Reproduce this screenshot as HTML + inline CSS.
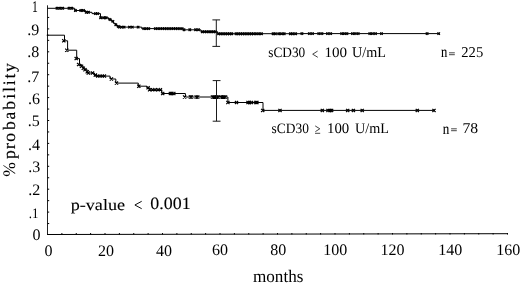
<!DOCTYPE html>
<html><head><meta charset="utf-8"><style>html,body{margin:0;padding:0;background:#fff;width:520px;height:284px;overflow:hidden}svg{display:block;filter:grayscale(1) blur(0.3px)}</style></head>
<body><svg width="520" height="284" viewBox="0 0 520 284">
<rect width="520" height="284" fill="#fff"/>
<g fill="none" stroke="#000" stroke-width="1">
<path d="M47.5,5.3 V235" stroke="#222"/>
<circle cx="47.6" cy="35.2" r="0.9" fill="#000" stroke="none"/>
<path d="M47,234.5 L508,233.7"/>
<path d="M47.5,223.55H49.2M47.5,212.10H49.2M47.5,200.65H49.2M47.5,189.20H49.2M47.5,177.75H49.2M47.5,166.30H49.2M47.5,154.85H49.2M47.5,143.40H49.2M47.5,131.95H49.2M47.5,120.50H49.2M47.5,109.05H49.2M47.5,97.60H49.2M47.5,86.15H49.2M47.5,74.70H49.2M47.5,63.25H49.2M47.5,51.80H49.2M47.5,40.35H49.2M47.5,28.90H49.2M47.5,17.45H49.2M61.88,234.5V233.0M76.25,234.5V233.0M90.62,234.5V233.0M105.00,234.5V233.0M119.38,234.5V233.0M133.75,234.5V233.0M148.12,234.5V233.0M162.50,234.5V233.0M176.88,234.5V233.0M191.25,234.5V233.0M205.62,234.5V233.0M220.00,234.5V233.0M234.38,234.5V233.0M248.75,234.5V233.0M263.12,234.5V233.0M277.50,234.5V233.0M291.88,234.5V233.0M306.25,234.5V233.0M320.62,234.5V233.0M335.00,234.5V233.0M349.38,234.5V233.0M363.75,234.5V233.0M378.12,234.5V233.0M392.50,234.5V233.0M406.88,234.5V233.0M421.25,234.5V233.0M435.62,234.5V233.0M450.00,234.5V233.0M464.38,234.5V233.0M478.75,234.5V233.0M493.12,234.5V233.0M507.50,234.5V233.0" stroke-width="1"/>
<path d="M47.5,8.3 H74.8 V10.5 H85.5 V12.3 H92 V13.6 H100.5 V17.7 H108.5 V19.5 H111.5 V21.4 H113.5 V23.4 H115.5 V24.8 H117 V26.4 H118.7 V27.1 H141.7 V28.6 H183.1 V29.8 H200.9 V31.7 H217.6 V33.7 H300 V33.6 H439.8" stroke-width="1"/>
<path d="M47.5,35.2 H64.5 V40.8 H67.6 V50.2 H76.7 V58.6 H79.5 V64.5 H81.5 V66.2 H83.3 V68.2 H85 V69.7 H87.2 V71.7 H88.1 V73 H94.5 V76.1 H110.1 V79 H115.8 V83.1 H138.3 V86.2 H146.8 V87.8 H149.6 V89.8 H161.8 V93.5 H185.4 V97 H227.9 V102.5 H263 V110.4 H435" stroke-width="1"/>
<path d="M55.75,7.05L58.25,9.55M55.75,9.55L58.25,7.05M58.65,7.05L61.15,9.55M58.65,9.55L61.15,7.05M61.50,7.05L64.00,9.55M61.50,9.55L64.00,7.05M67.75,7.05L70.25,9.55M67.75,9.55L70.25,7.05M70.65,7.05L73.15,9.55M70.65,9.55L73.15,7.05M74.15,9.25L76.65,11.75M74.15,11.75L76.65,9.25M79.55,9.25L82.05,11.75M79.55,11.75L82.05,9.25M82.25,9.25L84.75,11.75M82.25,11.75L84.75,9.25M84.95,11.05L87.45,13.55M84.95,13.55L87.45,11.05M87.25,11.05L89.75,13.55M87.25,13.55L89.75,11.05M94.15,12.35L96.65,14.85M94.15,14.85L96.65,12.35M96.45,12.35L98.95,14.85M96.45,14.85L98.95,12.35M99.35,16.45L101.85,18.95M99.35,18.95L101.85,16.45M102.45,16.45L104.95,18.95M102.45,18.95L104.95,16.45M104.95,16.45L107.45,18.95M104.95,18.95L107.45,16.45M108.75,18.25L111.25,20.75M108.75,20.75L111.25,18.25M111.65,20.15L114.15,22.65M111.65,22.65L114.15,20.15M114.55,23.55L117.05,26.05M114.55,26.05L117.05,23.55M117.05,25.15L119.55,27.65M117.05,27.65L119.55,25.15M118.05,25.85L120.55,28.35M118.05,28.35L120.55,25.85M120.45,25.85L122.95,28.35M120.45,28.35L122.95,25.85M122.85,25.85L125.35,28.35M122.85,28.35L125.35,25.85M128.15,25.85L130.65,28.35M128.15,28.35L130.65,25.85M131.05,25.85L133.55,28.35M131.05,28.35L133.55,25.85M136.85,25.85L139.35,28.35M136.85,28.35L139.35,25.85M142.55,27.35L145.05,29.85M142.55,29.85L145.05,27.35M145.05,27.35L147.55,29.85M145.05,29.85L147.55,27.35M147.45,27.35L149.95,29.85M147.45,29.85L149.95,27.35M154.15,27.35L156.65,29.85M154.15,29.85L156.65,27.35M156.55,27.35L159.05,29.85M156.55,29.85L159.05,27.35M158.95,27.35L161.45,29.85M158.95,29.85L161.45,27.35M161.15,27.35L163.65,29.85M161.15,29.85L163.65,27.35M163.35,27.35L165.85,29.85M163.35,29.85L165.85,27.35M165.55,27.35L168.05,29.85M165.55,29.85L168.05,27.35M167.75,27.35L170.25,29.85M167.75,29.85L170.25,27.35M169.95,27.35L172.45,29.85M169.95,29.85L172.45,27.35M172.15,27.35L174.65,29.85M172.15,29.85L174.65,27.35M174.35,27.35L176.85,29.85M174.35,29.85L176.85,27.35M176.55,27.35L179.05,29.85M176.55,29.85L179.05,27.35M178.75,27.35L181.25,29.85M178.75,29.85L181.25,27.35M180.85,27.35L183.35,29.85M180.85,29.85L183.35,27.35M182.75,28.55L185.25,31.05M182.75,31.05L185.25,28.55M188.55,28.55L191.05,31.05M188.55,31.05L191.05,28.55M194.35,28.55L196.85,31.05M194.35,31.05L196.85,28.55M197.25,28.55L199.75,31.05M197.25,31.05L199.75,28.55M201.05,30.45L203.55,32.95M201.05,32.95L203.55,30.45M203.25,30.45L205.75,32.95M203.25,32.95L205.75,30.45M205.45,30.45L207.95,32.95M205.45,32.95L207.95,30.45M207.65,30.45L210.15,32.95M207.65,32.95L210.15,30.45M209.85,30.45L212.35,32.95M209.85,32.95L212.35,30.45M212.05,30.45L214.55,32.95M212.05,32.95L214.55,30.45M214.25,30.45L216.75,32.95M214.25,32.95L216.75,30.45M217.35,32.45L219.85,34.95M217.35,34.95L219.85,32.45M219.55,32.45L222.05,34.95M219.55,34.95L222.05,32.45M221.75,32.45L224.25,34.95M221.75,34.95L224.25,32.45M223.95,32.45L226.45,34.95M223.95,34.95L226.45,32.45M226.15,32.45L228.65,34.95M226.15,34.95L228.65,32.45M228.35,32.45L230.85,34.95M228.35,34.95L230.85,32.45M230.55,32.45L233.05,34.95M230.55,34.95L233.05,32.45M234.75,32.45L237.25,34.95M234.75,34.95L237.25,32.45M236.95,32.45L239.45,34.95M236.95,34.95L239.45,32.45M239.15,32.45L241.65,34.95M239.15,34.95L241.65,32.45M241.35,32.45L243.85,34.95M241.35,34.95L243.85,32.45M243.55,32.45L246.05,34.95M243.55,34.95L246.05,32.45M245.75,32.45L248.25,34.95M245.75,34.95L248.25,32.45M247.95,32.45L250.45,34.95M247.95,34.95L250.45,32.45M250.15,32.45L252.65,34.95M250.15,34.95L252.65,32.45M252.35,32.45L254.85,34.95M252.35,34.95L254.85,32.45M254.95,32.45L257.45,34.95M254.95,34.95L257.45,32.45M257.55,32.45L260.05,34.95M257.55,34.95L260.05,32.45M260.25,32.45L262.75,34.95M260.25,34.95L262.75,32.45M271.85,32.45L274.35,34.95M271.85,34.95L274.35,32.45M274.15,32.45L276.65,34.95M274.15,34.95L276.65,32.45M277.55,32.45L280.05,34.95M277.55,34.95L280.05,32.45M280.25,32.45L282.75,34.95M280.25,34.95L282.75,32.45M282.95,32.45L285.45,34.95M282.95,34.95L285.45,32.45M289.15,32.45L291.65,34.95M289.15,34.95L291.65,32.45M291.45,32.45L293.95,34.95M291.45,34.95L293.95,32.45M294.35,32.45L296.85,34.95M294.35,34.95L296.85,32.45M300.65,32.35L303.15,34.85M300.65,34.85L303.15,32.35M308.15,32.35L310.65,34.85M308.15,34.85L310.65,32.35M311.25,32.35L313.75,34.85M311.25,34.85L313.75,32.35M317.55,32.35L320.05,34.85M317.55,34.85L320.05,32.35M320.65,32.35L323.15,34.85M320.65,34.85L323.15,32.35M326.25,32.35L328.75,34.85M326.25,34.85L328.75,32.35M329.35,32.35L331.85,34.85M329.35,34.85L331.85,32.35M340.45,32.35L342.95,34.85M340.45,34.85L342.95,32.35M343.05,32.35L345.55,34.85M343.05,34.85L345.55,32.35M345.65,32.35L348.15,34.85M345.65,34.85L348.15,32.35M351.25,32.35L353.75,34.85M351.25,34.85L353.75,32.35M353.85,32.35L356.35,34.85M353.85,34.85L356.35,32.35M356.95,32.35L359.45,34.85M356.95,34.85L359.45,32.35M368.55,32.35L371.05,34.85M368.55,34.85L371.05,32.35M371.15,32.35L373.65,34.85M371.15,34.85L373.65,32.35M374.25,32.35L376.75,34.85M374.25,34.85L376.75,32.35M380.25,32.35L382.75,34.85M380.25,34.85L382.75,32.35M425.85,32.35L428.35,34.85M425.85,34.85L428.35,32.35M437.45,32.35L439.95,34.85M437.45,34.85L439.95,32.35" stroke-width="1.3"/>
<path d="M62.20,39.20L65.40,42.40M62.20,42.40L65.40,39.20M65.20,48.60L68.40,51.80M65.20,51.80L68.40,48.60M74.60,57.00L77.80,60.20M74.60,60.20L77.80,57.00M77.00,62.90L80.20,66.10M77.00,66.10L80.20,62.90M79.90,64.60L83.10,67.80M79.90,67.80L83.10,64.60M81.70,66.60L84.90,69.80M81.70,69.80L84.90,66.60M83.40,68.10L86.60,71.30M83.40,71.30L86.60,68.10M85.60,70.10L88.80,73.30M85.60,73.30L88.80,70.10M86.70,71.40L89.90,74.60M86.70,74.60L89.90,71.40M90.90,71.40L94.10,74.60M90.90,74.60L94.10,71.40M93.70,73.40L96.90,76.60M93.70,76.60L96.90,73.40M96.20,74.50L99.40,77.70M96.20,77.70L99.40,74.50M98.40,74.50L101.60,77.70M98.40,77.70L101.60,74.50M100.60,74.50L103.80,77.70M100.60,77.70L103.80,74.50M102.80,74.50L106.00,77.70M102.80,77.70L106.00,74.50M109.80,77.40L113.00,80.60M109.80,80.60L113.00,77.40M114.90,81.50L118.10,84.70M114.90,84.70L118.10,81.50M137.20,84.60L140.40,87.80M137.20,87.80L140.40,84.60M146.50,86.20L149.70,89.40M146.50,89.40L149.70,86.20M148.00,88.20L151.20,91.40M148.00,91.40L151.20,88.20M151.10,88.20L154.30,91.40M151.10,91.40L154.30,88.20M153.40,88.20L156.60,91.40M153.40,91.40L156.60,88.20M156.50,88.20L159.70,91.40M156.50,91.40L159.70,88.20M158.80,88.20L162.00,91.40M158.80,91.40L162.00,88.20M161.10,91.90L164.30,95.10M161.10,95.10L164.30,91.90M168.80,91.90L172.00,95.10M168.80,95.10L172.00,91.90M170.30,91.90L173.50,95.10M170.30,95.10L173.50,91.90M172.20,91.90L175.40,95.10M172.20,95.10L175.40,91.90M183.00,95.40L186.20,98.60M183.00,98.60L186.20,95.40M188.80,95.40L192.00,98.60M188.80,98.60L192.00,95.40M189.90,95.40L193.10,98.60M189.90,98.60L193.10,95.40M194.60,95.40L197.80,98.60M194.60,98.60L197.80,95.40M196.10,95.40L199.30,98.60M196.10,98.60L199.30,95.40M210.90,95.40L214.10,98.60M210.90,98.60L214.10,95.40M212.40,95.40L215.60,98.60M212.40,98.60L215.60,95.40M213.90,95.40L217.10,98.60M213.90,98.60L217.10,95.40M215.40,95.40L218.60,98.60M215.40,98.60L218.60,95.40M216.90,95.40L220.10,98.60M216.90,98.60L220.10,95.40M219.40,95.40L222.60,98.60M219.40,98.60L222.60,95.40M220.90,95.40L224.10,98.60M220.90,98.60L224.10,95.40M222.40,95.40L225.60,98.60M222.40,98.60L225.60,95.40M223.90,95.40L227.10,98.60M223.90,98.60L227.10,95.40M226.30,100.90L229.50,104.10M226.30,104.10L229.50,100.90M234.90,100.90L238.10,104.10M234.90,104.10L238.10,100.90M246.40,100.90L249.60,104.10M246.40,104.10L249.60,100.90M248.00,100.90L251.20,104.10M248.00,104.10L251.20,100.90M249.90,100.90L253.10,104.10M249.90,104.10L253.10,100.90M254.20,100.90L257.40,104.10M254.20,104.10L257.40,100.90M255.30,100.90L258.50,104.10M255.30,104.10L258.50,100.90M261.10,108.80L264.30,112.00M261.10,112.00L264.30,108.80M278.40,108.80L281.60,112.00M278.40,112.00L281.60,108.80M320.70,108.80L323.90,112.00M320.70,112.00L323.90,108.80M326.40,108.80L329.60,112.00M326.40,112.00L329.60,108.80M328.40,108.80L331.60,112.00M328.40,112.00L331.60,108.80M330.00,108.80L333.20,112.00M330.00,112.00L333.20,108.80M346.10,108.80L349.30,112.00M346.10,112.00L349.30,108.80M351.80,108.80L355.00,112.00M351.80,112.00L355.00,108.80M360.60,108.80L363.80,112.00M360.60,112.00L363.80,108.80M415.70,108.80L418.90,112.00M415.70,112.00L418.90,108.80M432.40,108.80L435.60,112.00M432.40,112.00L435.60,108.80" stroke-width="1.2"/>
<path d="M216.3,19.9V46.4M212.4,19.9H220.1M212.4,46.4H220.1" stroke="#1a1a1a"/>
<path d="M141.7,201.3 L134.9,205 L141.7,208.7" stroke-width="0.95"/>
<path d="M317.6,51.1 L312.7,54.2 L317.8,57.3 M315.2,125.9 L319.8,128.8 L315.4,131.6 M315,133.3 H320.2" stroke="#222" stroke-width="0.85"/>
<path d="M449,52.8H454.8M449,54.7H454.8M451.1,128.8H456.8M451.1,130.7H456.8" stroke="#333" stroke-width="0.9"/>
<path d="M216.5,80.6V121.2M212.7,80.6H220.5M212.7,121.2H220.5" stroke="#1a1a1a"/>
</g>
<g font-family="Liberation Serif" fill="#000" text-rendering="geometricPrecision">
<text x="27.33" y="35.33" font-size="16">.9</text>
<text x="27.30" y="57.45" font-size="16">.8</text>
<text x="27.30" y="81.67" font-size="16">.7</text>
<text x="28.05" y="103.67" font-size="16">.6</text>
<text x="27.75" y="126.17" font-size="16">.5</text>
<text x="28.02" y="149.72" font-size="16">.4</text>
<text x="28.15" y="172.07" font-size="16">.3</text>
<text x="28.27" y="195.47" font-size="16">.2</text>
<text x="32.40" y="240.15" font-size="16">0</text>
<text transform="translate(31.91,11.80) scale(0.7273,1.0190)" font-size="16">1</text>
<text transform="translate(28.79,217.57) scale(0.8100,0.9116)" font-size="16">.1</text>
<text x="44.55" y="256.40" font-size="16">0</text>
<text x="97.92" y="256.25" font-size="16">20</text>
<text x="155.93" y="256.25" font-size="16">40</text>
<text x="212.03" y="255.45" font-size="16">60</text>
<text x="270.15" y="255.45" font-size="16">80</text>
<text x="323.25" y="255.25" font-size="16">100</text>
<text x="380.40" y="255.25" font-size="16">120</text>
<text x="438.30" y="255.35" font-size="16">140</text>
<text x="496.30" y="255.35" font-size="16">160</text>
<text transform="translate(268.27,57.27) scale(0.8595,0.9238)" font-size="15.5">sCD30</text>
<text transform="translate(324.38,57.27) scale(0.9721,0.9333)" font-size="15.5">100</text>
<text transform="translate(351.97,57.26) scale(0.9147,0.9524)" font-size="15.5">U/mL</text>
<text transform="translate(441.00,57.30) scale(0.8138,1.0207)" font-size="15.5" stroke="#000" stroke-width="0.1">n</text>
<text transform="translate(461.29,57.16) scale(0.9455,0.9714)" font-size="15.5">225</text>
<text transform="translate(271.57,133.27) scale(0.8667,0.9238)" font-size="15.5">sCD30</text>
<text transform="translate(327.00,133.26) scale(0.9581,0.9429)" font-size="15.5">100</text>
<text transform="translate(355.07,133.26) scale(0.9147,0.9429)" font-size="15.5">U/mL</text>
<text transform="translate(442.79,133.60) scale(0.8414,1.0207)" font-size="15.5" stroke="#000" stroke-width="0.1">n</text>
<text transform="translate(462.39,133.16) scale(1.0143,0.9714)" font-size="15.5">78</text>
<text transform="translate(70.72,209.66) scale(1.1323,0.9831)" font-size="16" stroke="#000" stroke-width="0.1">p-value</text>
<text transform="translate(150.34,209.03) scale(1.1188,1.0727)" font-size="16" stroke="#000" stroke-width="0.1">0.001</text>
<text transform="translate(252.95,282.24) scale(1.0071,1.0333)" font-size="17">months</text>
<text transform="translate(14.7,176.70) rotate(-90)" font-size="17.5">%</text>
<text transform="translate(14.7,158.88) rotate(-90)" font-size="17.5" stroke="#000" stroke-width="0.15">p</text>
<text transform="translate(14.7,148.95) rotate(-90)" font-size="17.5" stroke="#000" stroke-width="0.15">r</text>
<text transform="translate(14.7,141.68) rotate(-90)" font-size="17.5" stroke="#000" stroke-width="0.15">o</text>
<text transform="translate(14.7,130.00) rotate(-90)" font-size="17.5" stroke="#000" stroke-width="0.15">b</text>
<text transform="translate(14.7,119.50) rotate(-90)" font-size="17.5" stroke="#000" stroke-width="0.15">a</text>
<text transform="translate(14.7,109.65) rotate(-90)" font-size="17.5" stroke="#000" stroke-width="0.15">b</text>
<text transform="translate(14.7,98.83) rotate(-90)" font-size="17.5" stroke="#000" stroke-width="0.15">i</text>
<text transform="translate(14.7,91.92) rotate(-90)" font-size="17.5" stroke="#000" stroke-width="0.15">l</text>
<text transform="translate(14.7,85.28) rotate(-90)" font-size="17.5" stroke="#000" stroke-width="0.15">i</text>
<text transform="translate(14.7,78.45) rotate(-90)" font-size="17.5" stroke="#000" stroke-width="0.15">t</text>
<text transform="translate(14.7,72.10) rotate(-90)" font-size="17.5" stroke="#000" stroke-width="0.15">y</text>
</g>
</svg></body></html>
